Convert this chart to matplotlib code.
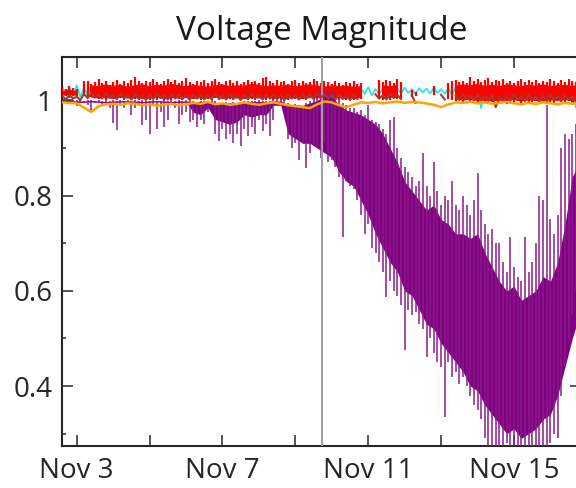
import numpy as np
import matplotlib
matplotlib.use('Agg')
import matplotlib.pyplot as plt
import matplotlib.dates as mdates
from matplotlib.ticker import FixedLocator, FuncFormatter
from datetime import datetime

plt.rcParams['font.family'] = ['Open Sans', 'DejaVu Sans']

# time axis: day of November (2.6 = Nov 2, 14:24)
base = mdates.date2num(datetime(2021, 10, 31))
t_fine = 2.6 + 0.1 * np.arange(143)     # bins for purple / red spikes
t_coarse = 2.6 + 0.2 * np.arange(72)    # bins for cores, brown, cyan, orange
event_day = 9.74
nan = np.nan

# purple: spike extents per 0.1 day bin
purple_hi = [
    1.000, 1.000, 0.999, 1.000, 1.000, 1.000, 0.999, 1.000, 1.000, 0.998,
    1.000, 0.999, 1.000, 0.998, 1.000, 0.999, 1.000, 0.999, 1.000, 0.999,
    1.000, 0.999, 1.000, 0.998, 0.999, 1.000, 0.998, 0.999, 1.000, 0.999,
    1.000, 0.999, 1.000, 0.998, 1.000, 0.999, 0.998, 0.997, 0.998, 0.999,
    0.998, 1.000, 0.999, 0.995, 0.995, 0.996, 0.995, 0.996, 0.995, 0.997,
    0.998, 0.999, 0.998, 0.999, 1.000, 0.999, 0.998, 0.999, 1.000, 1.000,
    1.000, 1.000, 0.995, 0.990, 0.992, 0.990, 0.988, 0.995, 0.998, 1.005,
    1.010, 1.020, 1.022, 1.020, 1.018, 1.015, 1.000, 0.995, 0.990, 0.985,
    0.985, 0.975, 0.980, 0.970, 0.990, 0.960, 0.955, 0.950, 0.940, 0.930,
    0.960, 0.965, 0.900, 0.880, 0.860, 0.850, 0.840, 0.820, 0.830, 0.890,
    0.820, 0.800, 0.870, 0.810, 0.780, 0.800, 0.790, 0.830, 0.780, 0.770,
    0.800, 0.780, 0.760, 0.790, 0.847, 0.770, 0.740, 0.720, 0.730, 0.700,
    0.700, 0.660, 0.640, 0.713, 0.650, 0.630, 0.620, 0.713, 0.640, 0.660,
    0.700, 0.800, 0.790, 0.990, 0.750, 0.720, 0.760, 0.900, 0.930, 0.920,
    0.930, 0.950, 0.950]
purple_lo = [
    0.990, 0.996, 0.995, 0.996, 0.988, 0.996, 0.995, 0.990, 0.975, 0.994,
    0.994, 0.990, 0.995, 0.985, 0.953, 0.938, 0.992, 0.985, 0.994, 0.970,
    0.985, 0.992, 0.948, 0.960, 0.930, 0.988, 0.940, 0.975, 0.945, 0.960,
    0.992, 0.985, 0.950, 0.970, 0.975, 0.955, 0.960, 0.945, 0.960, 0.950,
    0.975, 0.992, 0.930, 0.915, 0.940, 0.920, 0.930, 0.910, 0.930, 0.904,
    0.940, 0.925, 0.945, 0.930, 0.960, 0.935, 0.950, 0.925, 0.960, 0.995,
    0.995, 0.990, 0.920, 0.900, 0.910, 0.875, 0.910, 0.858, 0.890, 0.905,
    0.900, 0.880, 0.910, 0.870, 0.875, 0.860, 0.840, 0.713, 0.830, 0.820,
    0.815, 0.790, 0.760, 0.720, 0.740, 0.690, 0.680, 0.660, 0.640, 0.587,
    0.620, 0.600, 0.590, 0.570, 0.475, 0.560, 0.550, 0.555, 0.530, 0.520,
    0.460, 0.500, 0.470, 0.450, 0.440, 0.335, 0.450, 0.420, 0.430, 0.405,
    0.420, 0.400, 0.380, 0.360, 0.350, 0.330, 0.290, 0.270, 0.260, 0.270,
    0.260, 0.250, 0.280, 0.260, 0.250, 0.270, 0.250, 0.260, 0.270, 0.250,
    0.260, 0.270, 0.250, 0.270, 0.280, 0.300, 0.290, 0.380, 0.440, 0.500,
    0.550, 0.600, 0.600]
# purple: dense core per 0.2 day bin
purple_core_hi = [
    0.999, 1.000, 0.999, 0.999, 1.000, 0.999, 0.998, 0.999, 1.000, 0.999,
    0.999, 0.998, 0.999, 1.000, 0.999, 0.998, 0.999, 0.999, 0.998, 0.998,
    0.998, 0.996, 0.995, 0.995, 0.996, 0.997, 0.998, 0.998, 0.998, 0.999,
    0.999, 0.990, 0.990, 0.990, 0.995, 1.000, 1.010, 1.010, 0.990, 0.980,
    0.975, 0.970, 0.960, 0.950, 0.930, 0.900, 0.870, 0.830, 0.810, 0.790,
    0.770, 0.780, 0.750, 0.740, 0.720, 0.720, 0.710, 0.720, 0.680, 0.650,
    0.620, 0.600, 0.610, 0.580, 0.590, 0.600, 0.630, 0.620, 0.660, 0.740,
    0.840, 0.870]
purple_core_lo = [
    0.996, 0.997, 0.996, 0.996, 0.997, 0.996, 0.995, 0.996, 0.997, 0.996,
    0.996, 0.995, 0.996, 0.997, 0.996, 0.995, 0.996, 0.996, 0.975, 0.970,
    0.985, 0.960, 0.955, 0.950, 0.955, 0.970, 0.965, 0.970, 0.970, 0.990,
    0.990, 0.930, 0.920, 0.910, 0.910, 0.900, 0.890, 0.880, 0.850, 0.830,
    0.820, 0.790, 0.760, 0.720, 0.690, 0.660, 0.640, 0.600, 0.590, 0.560,
    0.530, 0.520, 0.490, 0.470, 0.450, 0.430, 0.400, 0.390, 0.360, 0.340,
    0.320, 0.300, 0.310, 0.290, 0.300, 0.310, 0.330, 0.340, 0.380, 0.440,
    0.500, 0.550]

# red: spike extents per 0.1 day bin (nan = no data)
red_hi = [
    1.028, 1.025, 1.030, 1.027, 1.025, nan, 1.040, 1.042, 1.035, 1.038,
    1.045, 1.036, 1.040, 1.033, 1.038, 1.044, 1.035, 1.041, 1.037, 1.043,
    1.049, 1.040, 1.036, 1.042, 1.038, 1.045, 1.039, 1.035, 1.041, 1.046,
    1.038, 1.043, 1.036, 1.040, 1.047, 1.039, 1.035, 1.042, 1.038, 1.044,
    1.036, 1.041, 1.046, 1.038, 1.034, 1.040, 1.043, 1.037, 1.041, 1.035,
    1.039, 1.044, 1.038, 1.042, 1.036, 1.047, 1.049, 1.040, 1.037, 1.043,
    1.038, 1.042, 1.035, 1.040, 1.044, 1.037, 1.041, 1.036, 1.039, 1.045,
    1.040, 1.036, 1.042, 1.038, 1.035, 1.041, 1.037, 1.033, 1.039, 1.036,
    1.040, 1.034, 1.037, nan, nan, nan, nan, 1.043, 1.038, 1.044,
    1.040, 1.036, 1.045, 1.039, nan, nan, 1.022, 1.018, nan, nan,
    nan, nan, 1.030, nan, nan, nan, 1.036, 1.040, 1.044, 1.038,
    1.042, 1.036, 1.049, 1.041, 1.045, 1.038, 1.043, 1.047, 1.039, 1.044,
    1.040, 1.046, 1.037, 1.042, 1.036, 1.041, 1.045, 1.038, 1.043, 1.039,
    1.044, 1.036, 1.041, 1.038, 1.045, 1.040, 1.037, 1.043, 1.039, 1.046,
    1.041, 1.038, 1.042]
red_lo = [
    1.008, 1.010, 1.006, 1.010, 1.008, nan, 1.010, 1.005, 1.008, 1.006,
    1.003, 1.007, 1.001, 1.006, 1.004, 1.000, 1.005, 1.002, 1.007, 1.003,
    1.004, 1.001, 1.006, 1.003, 1.000, 1.005, 1.002, 1.006, 1.001, 1.004,
    1.002, 1.006, 1.003, 1.000, 1.005, 1.002, 1.007, 1.003, 1.001, 1.005,
    1.003, 1.000, 1.005, 1.002, 1.006, 1.001, 1.004, 1.000, 1.005, 1.002,
    1.006, 1.002, 1.004, 1.000, 1.005, 1.003, 1.001, 1.006, 1.002, 1.004,
    1.001, 1.005, 1.002, 1.006, 1.003, 1.000, 1.004, 1.002, 1.006, 1.003,
    1.005, 1.002, 1.006, 1.003, 1.001, 1.004, 1.000, 1.005, 1.002, 1.004,
    1.001, 1.005, 1.003, nan, nan, nan, nan, 1.004, 1.001, 1.005,
    1.002, 1.006, 1.003, 1.005, nan, nan, 1.008, 1.010, nan, nan,
    nan, nan, 1.012, nan, nan, nan, 1.003, 1.000, 0.998, 1.002,
    0.997, 1.001, 0.996, 1.000, 0.995, 0.999, 0.994, 0.998, 0.996, 1.000,
    0.995, 0.999, 0.993, 0.997, 0.995, 0.999, 0.994, 0.998, 0.992, 0.996,
    0.999, 0.995, 0.998, 0.994, 0.997, 0.993, 0.999, 0.996, 0.994, 0.998,
    0.996, 0.999, 0.995]
# red: dense core per 0.2 day bin
red_core_hi = [
    1.020, 1.022, 1.020, nan, 1.032, 1.030, 1.034, 1.031, 1.033, 1.029,
    1.032, 1.034, 1.030, 1.033, 1.031, 1.035, 1.032, 1.030, 1.033, 1.031,
    1.029, 1.032, 1.034, 1.030, 1.032, 1.031, 1.035, 1.033, 1.030, 1.032,
    1.031, 1.033, 1.030, 1.032, 1.034, 1.031, 1.029, 1.032, 1.030, 1.031,
    1.029, 1.030, nan, nan, 1.032, 1.030, 1.033, nan, nan, nan,
    nan, nan, nan, nan, 1.031, 1.034, 1.032, 1.035, 1.031, 1.033,
    1.030, 1.034, 1.032, 1.030, 1.033, 1.031, 1.034, 1.030, 1.032, 1.033,
    1.031, 1.032]
red_core_lo = [
    1.010, 1.011, 1.010, nan, 1.006, 1.004, 1.005, 1.003, 1.006, 1.004,
    1.005, 1.003, 1.004, 1.006, 1.003, 1.005, 1.004, 1.006, 1.003, 1.005,
    1.004, 1.006, 1.003, 1.005, 1.004, 1.003, 1.005, 1.004, 1.006, 1.003,
    1.005, 1.004, 1.006, 1.003, 1.005, 1.004, 1.006, 1.003, 1.005, 1.004,
    1.003, 1.005, nan, nan, 1.004, 1.006, 1.005, nan, nan, nan,
    nan, nan, nan, nan, 1.002, 1.000, 1.001, 0.999, 1.000, 0.998,
    1.000, 0.999, 1.001, 0.998, 1.000, 0.999, 0.998, 1.000, 0.999, 1.001,
    0.999, 1.000]

# brown, cyan: envelopes per 0.2 day bin
brown_hi = [
    1.010, 1.012, 1.008, 1.014, 1.016, 1.013, 1.015, 1.012, 1.014, 1.011,
    1.013, 1.010, 1.012, 1.014, 1.011, 1.013, 1.012, 1.010, 1.013, 1.011,
    1.012, 1.014, 1.011, 1.013, 1.010, 1.012, 1.014, 1.011, 1.013, 1.012,
    1.010, 1.013, 1.011, 1.014, 1.012, 1.015, 1.013, 1.011, 1.012, 1.010,
    1.012, nan, nan, 1.013, 1.011, 1.014, 1.012, nan, 1.010, nan,
    nan, nan, 1.012, nan, 1.011, 1.013, 1.010, 1.012, 1.009, 1.011,
    1.008, 1.010, 1.012, 1.009, 1.011, 1.008, 1.010, 1.012, 1.009, 1.011,
    1.008, 1.010]
brown_lo = [
    1.002, 1.004, 1.001, 1.005, 1.006, 1.004, 1.006, 1.003, 1.005, 1.002,
    1.004, 1.001, 1.003, 1.005, 1.002, 1.004, 1.003, 1.001, 1.004, 1.002,
    1.003, 1.005, 1.002, 1.004, 1.001, 1.003, 1.005, 1.002, 1.004, 1.003,
    1.001, 1.004, 1.002, 1.005, 1.003, 1.006, 1.004, 1.002, 1.003, 1.001,
    1.003, nan, nan, 1.004, 1.002, 1.005, 1.003, nan, 0.995, nan,
    nan, nan, 1.002, nan, 1.001, 1.003, 1.000, 1.002, 0.999, 0.986,
    0.998, 1.000, 1.002, 0.999, 1.001, 0.998, 1.000, 1.002, 0.999, 1.001,
    0.998, 1.000]
cyan_hi = [
    1.030, 1.028, 1.032, 1.026, 1.029, 1.031, 1.027, 1.025, 1.028, 1.026,
    1.027, 1.025, 1.029, 1.024, 1.026, 1.028, 1.025, 1.027, 1.024, 1.026,
    1.025, 1.028, 1.024, 1.026, 1.027, 1.025, 1.028, 1.024, 1.026, 1.025,
    1.027, 1.024, 1.026, 1.028, 1.025, 1.036, 1.027, 1.024, 1.026, 1.025,
    1.027, 1.025, 1.028, 1.024, 1.026, 1.028, 1.025, 1.027, 1.024, 1.026,
    1.025, 1.027, 1.024, 1.026, 1.028, 1.025, 1.027, 1.024, 1.026, 1.028,
    1.025, 1.027, 1.024, 1.026, 1.028, 1.025, 1.027, 1.024, 1.030, 1.028,
    1.031, 1.029]
cyan_lo = [
    1.012, 1.010, 1.008, 1.013, 1.011, 1.014, 1.012, 1.010, 1.013, 1.011,
    1.014, 1.012, 1.010, 1.013, 1.011, 1.014, 1.012, 1.010, 1.013, 1.011,
    1.012, 1.014, 1.011, 1.013, 1.010, 1.012, 1.014, 1.011, 1.013, 1.012,
    1.010, 1.013, 1.011, 1.014, 1.012, 1.010, 1.013, 1.011, 1.012, 1.010,
    1.012, 1.014, 1.011, 1.013, 1.010, 1.012, 1.015, 1.016, 1.014, 1.017,
    1.015, 1.016, 1.014, 1.012, 1.010, 1.012, 1.008, 0.984, 1.010, 1.008,
    1.006, 1.004, 1.007, 1.005, 1.003, 1.006, 1.004, 1.002, 1.005, 1.003,
    0.985, 1.004]

# orange: one value per 0.2 day bin
orange = [
    0.996, 0.995, 0.994, 0.985, 0.976, 0.988, 0.992, 0.993, 0.991, 0.994,
    0.993, 0.990, 0.992, 0.989, 0.991, 0.993, 0.990, 0.992, 0.995, 0.993,
    0.997, 0.992, 0.994, 0.991, 0.993, 0.996, 0.993, 0.991, 0.994, 0.996,
    0.993, 0.990, 0.988, 0.986, 0.984, 0.992, 0.998, 0.996, 0.990, 0.986,
    0.991, 0.996, 0.995, 0.997, 0.994, 0.996, 0.998, 0.995, 0.997, 0.996,
    0.994, 0.991, 0.986, 0.992, 0.996, 0.995, 0.997, 0.994, 0.996, 0.993,
    0.995, 0.997, 0.994, 0.992, 0.995, 0.993, 0.996, 0.994, 0.992, 0.995,
    0.993, 0.995]

# black: only seen at the two ends
black = [0.997, 0.998] + [nan] * 68 + [0.998, 0.997]


def zigzag(t, hi, lo, dt):
    x = np.empty(2 * len(t))
    y = np.empty(2 * len(t))
    x[0::2] = t
    x[1::2] = np.asarray(t) + dt / 2
    y[0::2] = hi
    y[1::2] = lo
    return base + x, y


fig = plt.figure(figsize=(5.76, 4.88), dpi=100)
ax = fig.add_axes([0.1082, 0.0861, 0.9005, 0.7971])

ax.plot(base + t_coarse, black, color='#202020', lw=1.5, zorder=1)
x, y = zigzag(t_coarse, cyan_hi, cyan_lo, 0.2)
ax.plot(x, y, color='#2EE6E6', lw=1.3, zorder=2)

# red: dense core + individual spikes
ax.fill_between(base + t_coarse, red_core_lo, red_core_hi,
                color='#FF0000', lw=0, zorder=3)
ax.vlines(base + t_fine, red_lo, red_hi, color='#FF0000', lw=1.6, zorder=3)

# purple: dense core + individual spikes
ax.fill_between(base + t_coarse, purple_core_lo, purple_core_hi,
                color='#800080', lw=0, zorder=4)
ax.vlines(base + t_fine, purple_lo, purple_hi, color='#8A1A8C', lw=1.1, zorder=4)

ax.axvline(base + event_day, color='#A0A0A0', lw=1.5, zorder=4.5)
x, y = zigzag(t_coarse, brown_hi, brown_lo, 0.2)
ax.plot(x, y, color='#A33A32', lw=1.5, zorder=5)
ax.plot(base + t_coarse, orange, color='#FFA500', lw=1.8, zorder=6)

ax.set_xlim(base + 2.605, base + 16.84)
ax.set_ylim(0.274, 1.0914)

ax.xaxis.set_major_locator(FixedLocator(base + np.array([3, 7, 11, 15])))
ax.xaxis.set_minor_locator(FixedLocator(base + np.array([5, 9, 13, 17])))
ax.xaxis.set_major_formatter(FuncFormatter(lambda v, p: 'Nov %d' % round(v - base)))
ax.yaxis.set_major_locator(FixedLocator([0.4, 0.6, 0.8, 1.0]))
ax.yaxis.set_minor_locator(FixedLocator([0.3, 0.5, 0.7, 0.9]))
ax.yaxis.set_major_formatter(FuncFormatter(lambda v, p: '%g' % v))

ax.tick_params(which='both', direction='in', top=True, right=True,
               width=1.1, color='#262626', labelcolor='#262626', labelsize=20)
ax.tick_params(axis='x', which='both', length=8, pad=8)
ax.tick_params(axis='y', which='major', length=8, pad=7)
ax.tick_params(axis='y', which='minor', length=3.2)
for s in ax.spines.values():
    s.set_linewidth(1.5)
    s.set_color('#262626')

ax.set_title('Voltage Magnitude', fontsize=24, color='#1a1a1a', pad=12)

fig.savefig('out.png', dpi=100)
